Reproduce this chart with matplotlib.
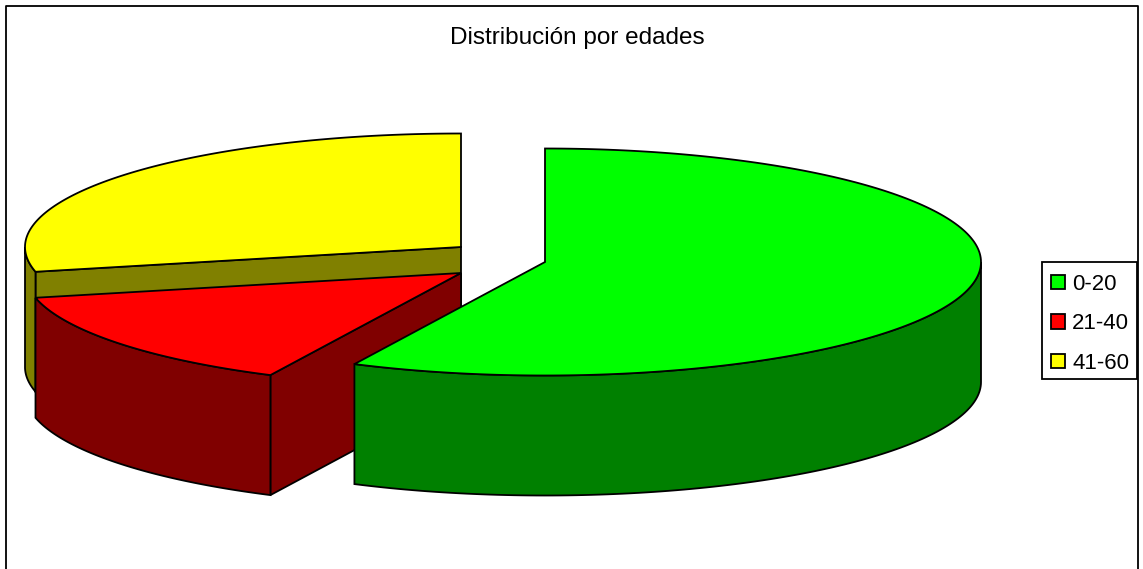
import numpy as np
import matplotlib
matplotlib.use('Agg')
import matplotlib.pyplot as plt
from matplotlib.patches import Polygon, Patch, Rectangle

plt.rcParams['font.family'] = ['Liberation Sans', 'DejaVu Sans']

# Datos
categorias = ['0-20', '21-40', '41-60']
valores = [57.2, 14.3, 28.5]
colores = ['#00ff00', '#ff0000', '#ffff00']
oscuros = ['#008000', '#800000', '#808000']
titulo = 'Distribución por edades'

# Geometria de la tarta en pixeles
centros = [(545, 262), (461, 273), (461, 247)]
rx, ry = 436, 113.5
prof = 120

fig = plt.figure(figsize=(11.43, 5.69), dpi=100)
ax = fig.add_axes([0, 0, 1, 1])
ax.set_xlim(0, 1143)
ax.set_ylim(569, 0)
ax.axis('off')

# Marco exterior, abierto por abajo
ax.plot([5.5, 5.5, 1137.5, 1137.5], [569, 6, 6, 569], color='black', lw=1.3, zorder=1)

fracs = np.array(valores) / sum(valores) * 2 * np.pi
inicios = np.concatenate([[0], np.cumsum(fracs)[:-1]])


def punto(c, t):
    return c[0] + rx * np.sin(t), c[1] - ry * np.cos(t)


# Se dibuja de atras hacia delante: amarillo, rojo, verde
z = 2
for i in [2, 1, 0]:
    c = centros[i]
    t0, t1 = inicios[i], inicios[i] + fracs[i]
    ts = np.linspace(t0, t1, 200)
    ax_x, ax_y = punto(c, ts)

    # Cara de corte que mira al frente (el verde no la enseña)
    if i != 0:
        px, py = punto(c, t0)
        cara = [(c[0], c[1]), (px, py), (px, py + prof), (c[0], c[1] + prof)]
        ax.add_patch(Polygon(cara, closed=True, fc=oscuros[i], ec='black', lw=1.3, zorder=z))
        z += 1

    # Pared exterior, la parte de abajo de la elipse
    vis = np.cos(ts) <= 0
    if vis.any():
        wx, wy = ax_x[vis], ax_y[vis]
        pared = list(zip(wx, wy)) + list(zip(wx[::-1], wy[::-1] + prof))
        ax.add_patch(Polygon(pared, closed=True, fc=oscuros[i], ec='black', lw=1.3, zorder=z))
        z += 1

    # Cara superior
    tapa = [c] + list(zip(ax_x, ax_y))
    ax.add_patch(Polygon(tapa, closed=True, fc=colores[i], ec='black', lw=1.3, zorder=z))
    z += 1

ax.text(577.5, 37.5, titulo, ha='center', va='center', fontsize=17.5, color='black')

# Leyenda: el recuadro va aparte para clavar su tamaño
ax.add_patch(Rectangle((1042, 262), 95, 117, fc='white', ec='black', lw=1.3, zorder=40))
handles = [Patch(fc=col, ec='black', lw=1.3) for col in colores]
leg = ax.legend(handles, categorias, loc='upper left', bbox_to_anchor=(1043, 266),
                bbox_transform=ax.transData, fontsize=16, frameon=False,
                borderaxespad=0, handlelength=0.62, handleheight=0.62,
                handletextpad=0.34, labelspacing=0.825, borderpad=0.36)
leg.set_zorder(50)

fig.savefig('out.png', dpi=100)
